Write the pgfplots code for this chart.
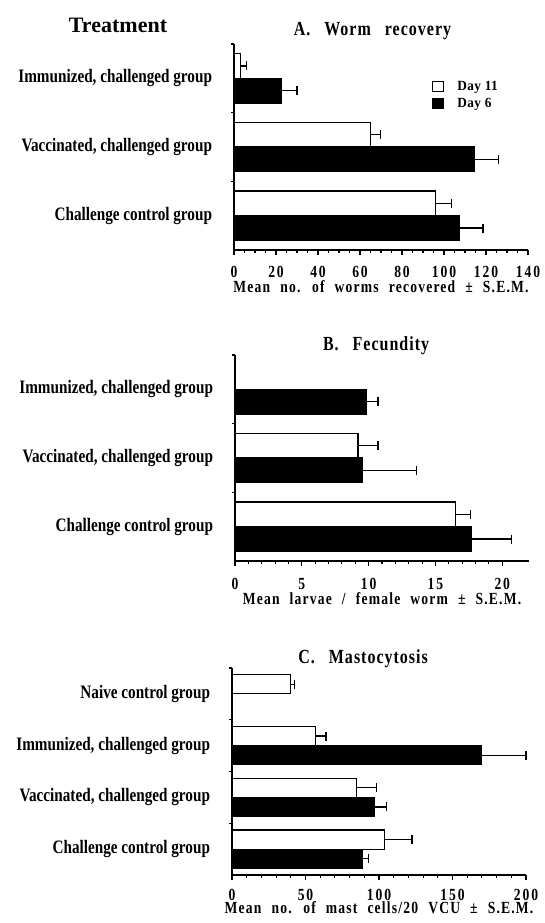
\documentclass[border=0pt]{standalone}
\usepackage{fontspec}
\setmainfont{Liberation Serif}[FakeStretch=0.8]
\newfontfamily\treatfont{Liberation Serif}
\newfontfamily\labfam{Liberation Serif}[FakeStretch=0.8, LetterSpace=7, WordSpace=2.2]
\newfontfamily\titfam{Liberation Serif}[FakeStretch=0.8, LetterSpace=5, WordSpace=2.8]
\newfontfamily\legfam{Liberation Serif}[FakeStretch=0.95, LetterSpace=3]
\usepackage{pgfplots}
\pgfplotsset{compat=1.18}

\newcommand\catfont{\bfseries\fontsize{19}{21}\selectfont}
\newcommand\tickfont{\bfseries\fontsize{17}{18}\selectfont\addfontfeature{LetterSpace=11}}
\newcommand\labfont{\labfam\bfseries\fontsize{17}{18}\selectfont}
\newcommand\titfont{\titfam\bfseries\fontsize{20}{22}\selectfont}

\pgfplotsset{
  panel/.style={
    scale only axis, width=294pt, height=205pt,
    axis lines*=left,
    axis line style={line width=1.3pt},
    xmin=0, clip=false,
    tick align=outside,
    major tick length=4.5pt, minor tick length=3pt,
    tick style={line width=1.1pt, black},
    major y tick style={draw=none},
    /pgf/number format/assume math mode=true,
    xticklabel style={font=\tickfont, anchor=base, inner sep=1pt, yshift=-23pt},
    yticklabel style={font=\catfont, xshift=-14pt},
    xlabel style={font=\labfont, at={(axis description cs:0.5,0)}, anchor=base, inner sep=1pt, yshift=-42pt},
    title style={font=\titfont, anchor=base},
  },
  ebar/.style={
    error bars/x dir=plus, error bars/x explicit,
    error bars/error mark=none,
    error bars/error bar style={line width=1.3pt, black}},
  wbar/.style={xbar, bar width=#1, bar shift=0pt, fill=white, draw=black, line width=1.2pt, ebar},
  bbar/.style={xbar, bar width=#1, bar shift=0pt, fill=black, draw=black, line width=1.2pt, ebar},
  caps/.style={only marks, mark=|, mark size=4.5pt, mark options={line width=1.3pt, black}, forget plot},
}

\begin{document}
\begin{tikzpicture}
\useasboundingbox (0,0) rectangle (544pt,-923pt);

\node[font=\treatfont\bfseries\fontsize{22}{24}\selectfont, anchor=base] at (118pt,-33pt) {Treatment};

% ---------- A ----------
\begin{axis}[panel, at={(234pt,-250pt)}, anchor=south west, height=206pt,
  xmax=140, xtick distance=20, minor x tick num=3,
  ymin=-0.5, ymax=2.5,
  ytick={0,1,2},
  yticklabels={Challenge control group,{Vaccinated, challenged group},{Immunized, challenged group}},
  minor ytick={0.5,1.5,2.5},
  xlabel={Mean no. of worms recovered ± S.E.M.},
  title={A. Worm recovery},
  title style={at={(0.471,1)}, yshift=3pt},
  legend style={draw=none, fill=none, at={(0.67,0.835)}, anchor=north west,
    font=\legfam\bfseries\fontsize{14}{16}\selectfont, row sep=2pt, inner sep=1pt},
  legend cell align=left,
  legend image code/.code={\draw[line width=1.1pt,#1] (0pt,-5pt) rectangle (11pt,5pt);
    \node[inner sep=0pt, draw=none, fill=none] at (21pt,0pt) {};},
]
\addplot[wbar=0.36] coordinates {(96,0.18) +- (7.5,0) (65,1.18) +- (4.8,0) (3,2.18) +- (3,0)};
\addplot[bbar=0.36] coordinates {(107.5,-0.18) +- (11,0) (114.5,0.82) +- (11.5,0) (22.5,1.82) +- (7.5,0)};
\addplot[caps] coordinates {(103.5,0.18) (69.8,1.18) (6,2.18) (118.5,-0.18) (126,0.82) (30,1.82)};
\legend{Day 11, Day 6}
\end{axis}

% ---------- B ----------
\begin{axis}[panel, at={(235pt,-561pt)}, anchor=south west, height=206pt,
  xmax=22, xtick={0,5,10,15,20}, minor x tick num=4,
  ymin=-0.5, ymax=2.5,
  ytick={0,1,2},
  yticklabels={Challenge control group,{Vaccinated, challenged group},{Immunized, challenged group}},
  minor ytick={0.5,1.5,2.5},
  xlabel={Mean larvae / female worm ± S.E.M.},
  xticklabel style={yshift=-1pt},
  xlabel style={yshift=-1pt},
  title={B. Fecundity},
  title style={at={(0.48,1)}, yshift=-1pt},
]
\addplot[wbar=0.36] coordinates {(16.5,0.18) +- (1.1,0) (9.2,1.18) +- (1.5,0)};
\addplot[bbar=0.36] coordinates {(17.7,-0.18) +- (3.0,0) (9.55,0.82) +- (4.05,0) (9.8,1.82) +- (0.9,0)};
\addplot[caps] coordinates {(17.6,0.18) (10.7,1.18) (20.7,-0.18) (13.6,0.82) (10.7,1.82)};
\end{axis}

% ---------- C ----------
\begin{axis}[panel, at={(232pt,-875pt)}, anchor=south west, height=207pt,
  xmax=200, xtick distance=50, minor x tick num=4,
  ymin=-0.5, ymax=3.5,
  ytick={0,1,2,3},
  yticklabels={Challenge control group,{Vaccinated, challenged group},{Immunized, challenged group},Naive control group},
  minor ytick={0.5,1.5,2.5,3.5},
  xlabel={Mean no. of mast cells/20 VCU ± S.E.M.},
  xticklabel style={yshift=2pt},
  xlabel style={yshift=4pt},
  title={C. Mastocytosis},
  title style={at={(0.446,1)}, yshift=-1pt},
]
\addplot[wbar=0.37] coordinates {(103.5,0.185) +- (19,0) (84.6,1.185) +- (13.7,0) (56.7,2.185) +- (7.3,0) (39.7,3.185) +- (2.8,0)};
\addplot[bbar=0.37] coordinates {(88.4,-0.185) +- (4.6,0) (96.8,0.815) +- (8.2,0) (169.5,1.815) +- (30.5,0)};
\addplot[caps] coordinates {(122.5,0.185) (98.3,1.185) (64,2.185) (42.5,3.185) (93,-0.185) (105,0.815) (200,1.815)};
\end{axis}
\end{tikzpicture}
\end{document}
